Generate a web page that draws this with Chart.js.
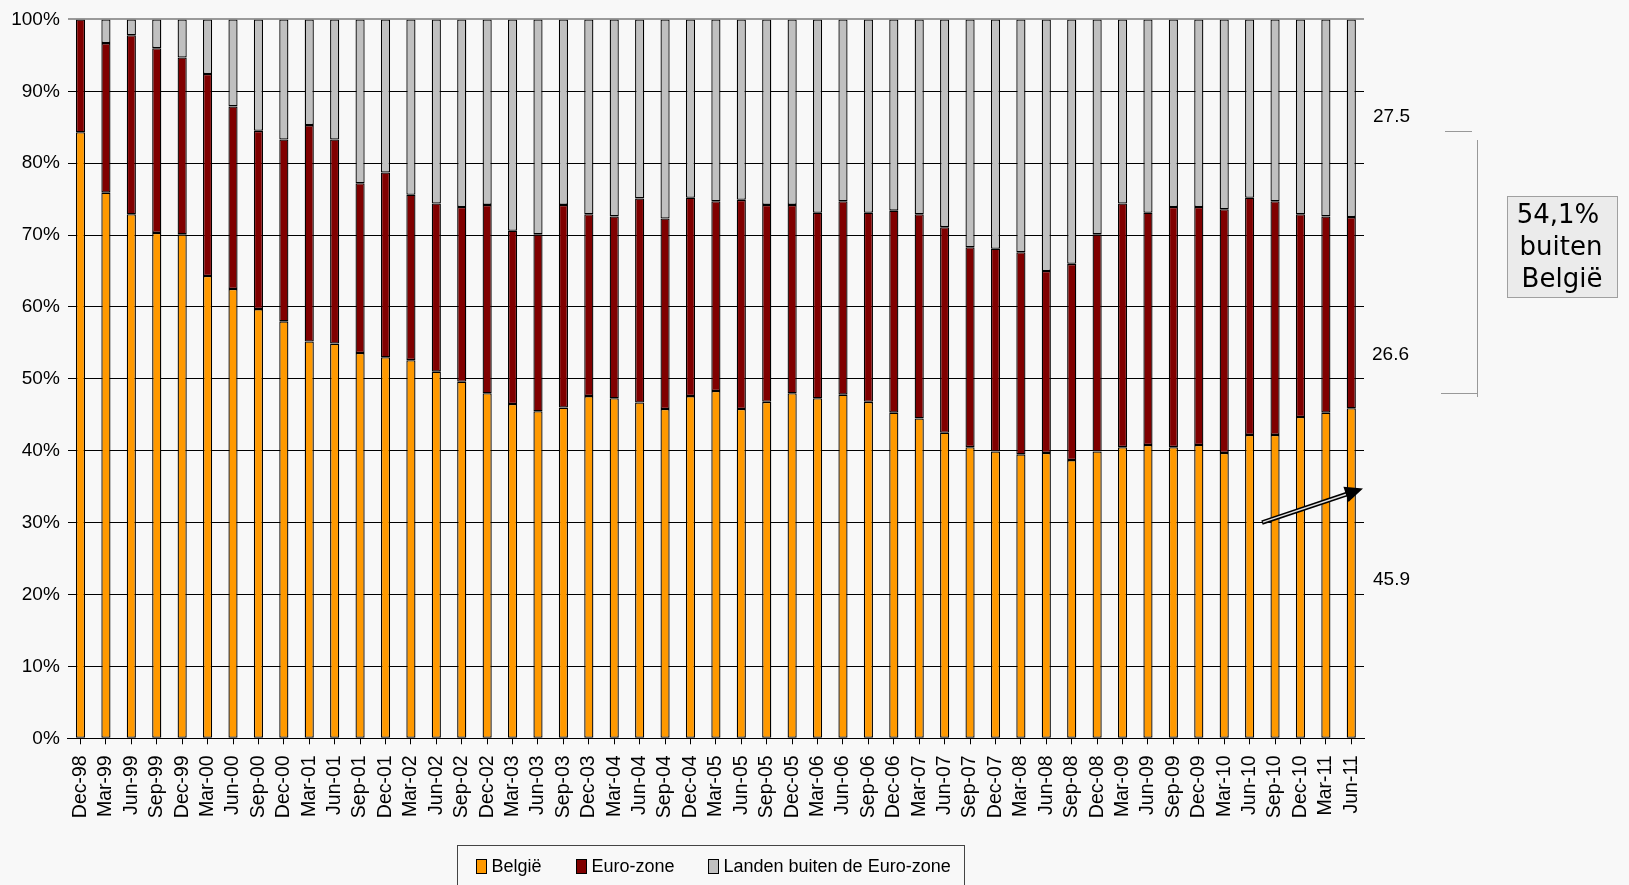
<!DOCTYPE html>
<html>
<head>
<meta charset="utf-8">
<script src="https://cdn.jsdelivr.net/npm/chart.js@4"></script>
<style>
  html, body { margin: 0; padding: 0; background: #f8f8f8; overflow: hidden; }
  #wrap { position: relative; width: 1629px; height: 885px; }
  #legend {
    position: absolute; left: 457px; top: 845px; width: 508px; height: 60px;
    border: 1px solid #444; box-sizing: border-box;
    font-family: "Liberation Sans", Arial, sans-serif;
    font-size: 18px; color: #000;
  }
  .item { position: absolute; top: 8px; height: 24px; display: flex; align-items: center; white-space: nowrap; }
  .sw { width: 8.5px; height: 13px; border: 1px solid #000; margin-right: 5px; }
</style>
</head>
<body>
<div id="wrap">
  <canvas id="chart" width="1629" height="885"></canvas>
  <div id="legend">
    <div class="item" style="left:18px"><span class="sw" style="background:#FF9900"></span>België</div>
    <div class="item" style="left:118px"><span class="sw" style="background:#800000"></span>Euro-zone</div>
    <div class="item" style="left:250px"><span class="sw" style="background:#C0C0C0"></span>Landen buiten de Euro-zone</div>
  </div>
</div>
<script>
const labels = [
  'Dec-98', 'Mar-99', 'Jun-99', 'Sep-99', 'Dec-99', 'Mar-00', 'Jun-00', 'Sep-00', 'Dec-00',
  'Mar-01', 'Jun-01', 'Sep-01', 'Dec-01', 'Mar-02', 'Jun-02', 'Sep-02', 'Dec-02',
  'Mar-03', 'Jun-03', 'Sep-03', 'Dec-03', 'Mar-04', 'Jun-04', 'Sep-04', 'Dec-04',
  'Mar-05', 'Jun-05', 'Sep-05', 'Dec-05', 'Mar-06', 'Jun-06', 'Sep-06', 'Dec-06',
  'Mar-07', 'Jun-07', 'Sep-07', 'Dec-07', 'Mar-08', 'Jun-08', 'Sep-08', 'Dec-08',
  'Mar-09', 'Jun-09', 'Sep-09', 'Dec-09', 'Mar-10', 'Jun-10', 'Sep-10', 'Dec-10',
  'Mar-11', 'Jun-11'
];

const belgie = [
  84.3, 75.9, 72.9, 70.3, 70.1, 64.3, 62.5, 59.7, 58.0,
  55.2, 54.9, 53.6, 53.0, 52.6, 51.0, 49.6, 48.0,
  46.5, 45.5, 46.0, 47.6, 47.3, 46.7, 45.8, 47.6,
  48.3, 45.8, 46.8, 48.0, 47.3, 47.8, 46.8, 45.3,
  44.5, 42.5, 40.5, 39.9, 39.5, 39.7, 38.7, 39.9,
  40.5, 40.8, 40.5, 40.8, 39.7, 42.2, 42.2, 44.7,
  45.3, 45.9
];

const euroZone = [
  15.7, 20.8, 24.9, 25.7, 24.6, 28.1, 25.4, 24.8, 25.3,
  30.1, 28.4, 23.6, 25.7, 23.0, 23.4, 24.3, 26.2,
  24.1, 24.6, 28.2, 25.3, 25.3, 28.4, 26.5, 27.6,
  26.4, 29.1, 27.4, 26.2, 25.8, 26.9, 26.3, 28.1,
  28.4, 28.6, 27.8, 28.2, 28.1, 25.3, 27.3, 30.2,
  33.9, 32.3, 33.4, 33.1, 33.9, 33.0, 32.5, 28.2,
  27.3, 26.6
];

const buitenEuro = [
  0.0, 3.3, 2.2, 4.0, 5.3, 7.6, 12.1, 15.5, 16.7,
  14.7, 16.7, 22.8, 21.3, 24.4, 25.6, 26.1, 25.8,
  29.4, 29.9, 25.8, 27.1, 27.4, 24.9, 27.7, 24.8,
  25.3, 25.1, 25.8, 25.8, 26.9, 25.3, 26.9, 26.6,
  27.1, 28.9, 31.7, 31.9, 32.4, 35.0, 34.0, 29.9,
  25.6, 26.9, 26.1, 26.1, 26.4, 24.8, 25.3, 27.1,
  27.4, 27.5
];

const sans = '"Liberation Sans", Arial, sans-serif';

// labels and bracket to the right of the plot, plus the callout box and arrow
const notes = {
  id: 'notes',
  afterDraw(chart) {
    const ctx = chart.ctx;
    const y = chart.scales.y;
    const last = labels.length - 1;
    ctx.save();

    ctx.font = '19px ' + sans;
    ctx.fillStyle = '#000';
    ctx.textBaseline = 'middle';
    ctx.textAlign = 'left';
    ctx.fillText(buitenEuro[last].toFixed(1), 1373, y.getPixelForValue(86.4));
    ctx.fillText(euroZone[last].toFixed(1), 1372, y.getPixelForValue(53.4));
    ctx.fillText(belgie[last].toFixed(1), 1373, y.getPixelForValue(22.1));

    // bracket
    ctx.strokeStyle = '#999';
    ctx.lineWidth = 1;
    ctx.beginPath();
    ctx.moveTo(1445, 131.5); ctx.lineTo(1472, 131.5);
    ctx.moveTo(1477.5, 140); ctx.lineTo(1477.5, 397);
    ctx.moveTo(1441, 393.5); ctx.lineTo(1477, 393.5);
    ctx.stroke();

    // callout box
    ctx.fillStyle = '#ebebeb';
    ctx.fillRect(1507, 196, 111, 102);
    ctx.strokeStyle = '#a0a0a0';
    ctx.strokeRect(1507.5, 196.5, 110, 101);
    const outside = (euroZone[last] + buitenEuro[last]).toFixed(1).replace('.', ',');
    ctx.font = '26px "DejaVu Sans", sans-serif';
    ctx.fillStyle = '#000';
    ctx.textAlign = 'center';
    ctx.fillText(outside + '%', 1558, 216);
    ctx.fillText('buiten', 1561, 248);
    ctx.fillText('België', 1562, 280);

    // arrow
    const x0 = 1262, y0 = 522.6, x1 = 1350, y1 = 493;
    ctx.strokeStyle = '#000';
    ctx.lineWidth = 4.5;
    ctx.beginPath(); ctx.moveTo(x0, y0); ctx.lineTo(x1, y1); ctx.stroke();
    ctx.strokeStyle = '#e0e0e0';
    ctx.lineWidth = 1.5;
    ctx.beginPath(); ctx.moveTo(x0 + 1, y0 - 0.5); ctx.lineTo(x1 - 2, y1 + 0.7); ctx.stroke();
    const a = Math.atan2(488.6 - y0, 1363 - x0);
    ctx.fillStyle = '#000';
    ctx.beginPath();
    ctx.moveTo(1363, 488.6);
    ctx.lineTo(1363 - 18 * Math.cos(a) + 8 * Math.sin(a), 488.6 - 18 * Math.sin(a) - 8 * Math.cos(a));
    ctx.lineTo(1363 - 18 * Math.cos(a) - 8 * Math.sin(a), 488.6 - 18 * Math.sin(a) + 8 * Math.cos(a));
    ctx.closePath();
    ctx.fill();

    ctx.restore();
  }
};

const ctx = document.getElementById('chart').getContext('2d');
new Chart(ctx, {
  type: 'bar',
  data: {
    labels: labels,
    datasets: [
      { label: 'België', data: belgie, backgroundColor: '#FF9900' },
      { label: 'Euro-zone', data: euroZone, backgroundColor: '#800000' },
      { label: 'Landen buiten de Euro-zone', data: buitenEuro, backgroundColor: '#C0C0C0' }
    ]
  },
  options: {
    responsive: false,
    animation: false,
    devicePixelRatio: 1,
    layout: { padding: { left: 0, right: 265, top: 19, bottom: 0 } },
    datasets: {
      bar: {
        categoryPercentage: 1,
        barPercentage: 0.36,
        borderColor: '#000',
        borderWidth: 1.3,
        borderSkipped: false
      }
    },
    plugins: {
      legend: { display: false },
      tooltip: { enabled: false }
    },
    scales: {
      x: {
        stacked: true,
        afterFit: s => { s.height = 146.7; },
        grid: { display: true, drawOnChartArea: false, drawTicks: true, tickLength: 6, color: '#000', offset: false },
        border: { display: true, color: '#000', width: 1 },
        ticks: {
          autoSkip: false, maxRotation: 90, minRotation: 90, padding: 11,
          color: '#000', font: { family: sans, size: 19.5 }
        }
      },
      y: {
        stacked: true,
        min: 0,
        max: 100,
        afterFit: s => { s.width = 67.8; },
        grid: {
          drawTicks: false,
          color: c => (c.tick && c.tick.value === 100 ? '#9a9a9a' : '#000'),
          lineWidth: c => (c.tick && c.tick.value === 100 ? 2 : 1)
        },
        border: { display: false },
        ticks: {
          stepSize: 10, padding: 8, color: '#000',
          font: { family: sans, size: 19 },
          callback: v => v + '%'
        }
      }
    }
  },
  plugins: [notes]
});
</script>
</body>
</html>
